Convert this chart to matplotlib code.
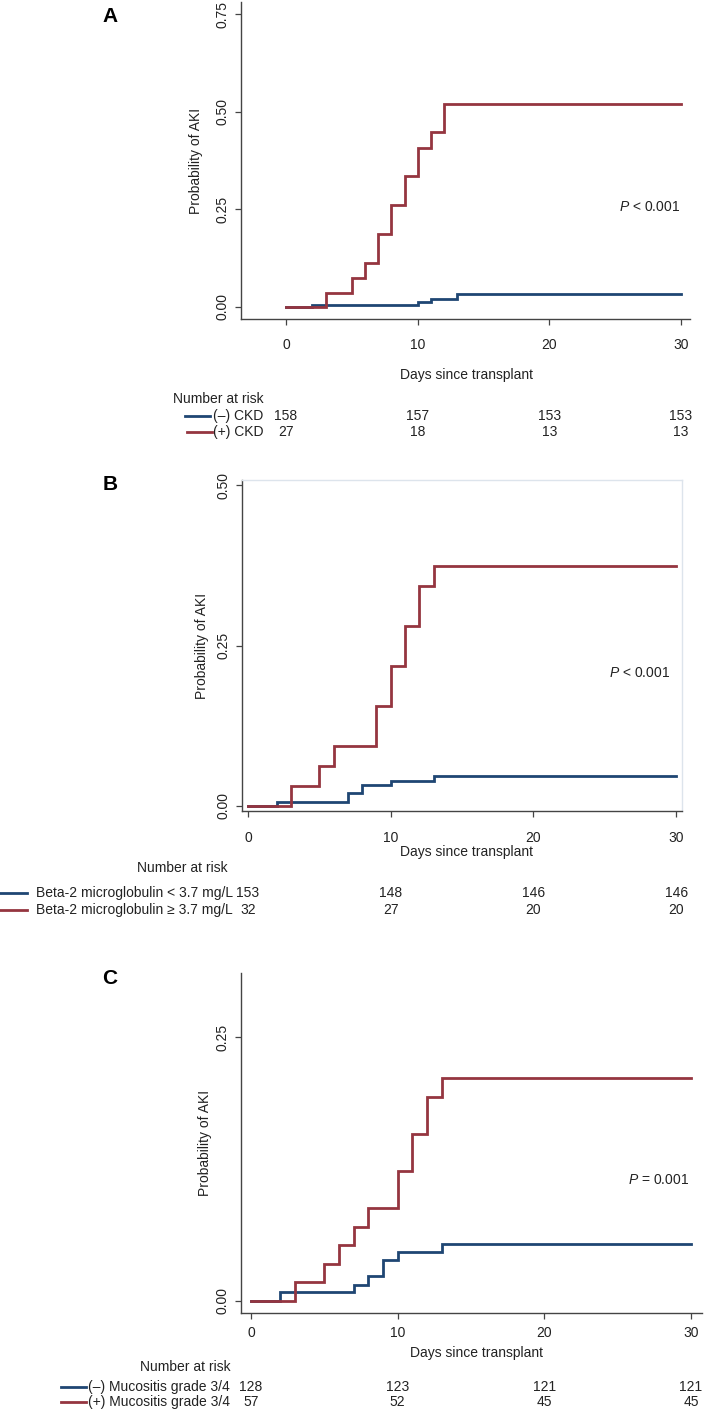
import matplotlib
matplotlib.use("Agg")
import matplotlib.pyplot as plt
from matplotlib.transforms import blended_transform_factory

plt.rcParams['font.family'] = ['Liberation Sans', 'DejaVu Sans']
plt.rcParams['mathtext.fontset'] = 'custom'
plt.rcParams['mathtext.it'] = 'Liberation Sans:italic'
plt.rcParams['mathtext.rm'] = 'Liberation Sans'

# ---------------- data ----------------
risk_days = [0, 10, 20, 30]
x_ticks = [0, 10, 20, 30]

# Panel A (CKD)
A_neg_t = [0, 2, 10, 11, 13, 30]
A_neg_p = [0, 0.005, 0.013, 0.020, 0.033, 0.033]
A_pos_t = [0, 3, 5, 6, 7, 8, 9, 10, 11, 12, 30]
A_pos_p = [0, 0.036, 0.074, 0.113, 0.186, 0.261, 0.336, 0.408, 0.449, 0.521, 0.521]
A_labels = ["(\u2013) CKD", "(+) CKD"]
A_risk_neg = [158, 157, 153, 153]
A_risk_pos = [27, 18, 13, 13]
A_yticks = [0, 0.25, 0.50, 0.75]
A_ptext = r"$P$ < 0.001"

# Panel B (Beta-2 microglobulin)
B_neg_t = [0, 2, 7, 8, 10, 13, 30]
B_neg_p = [0, 0.0068, 0.020, 0.033, 0.039, 0.046, 0.046]
B_pos_t = [0, 3, 5, 6, 9, 10, 11, 12, 13, 30]
B_pos_p = [0, 0.031, 0.063, 0.094, 0.156, 0.218, 0.281, 0.343, 0.374, 0.374]
B_labels = ["Beta-2 microglobulin < 3.7 mg/L", "Beta-2 microglobulin \u2265 3.7 mg/L"]
B_risk_neg = [153, 148, 146, 146]
B_risk_pos = [32, 27, 20, 20]
B_yticks = [0, 0.25, 0.50]
B_ptext = r"$P$ < 0.001"

# Panel C (Mucositis)
C_neg_t = [0, 2, 7, 8, 9, 10, 13, 30]
C_neg_p = [0, 0.0082, 0.0154, 0.0236, 0.039, 0.046, 0.054, 0.054]
C_pos_t = [0, 3, 5, 6, 7, 8, 10, 11, 12, 13, 30]
C_pos_p = [0, 0.0177, 0.0353, 0.053, 0.070, 0.088, 0.123, 0.158, 0.193, 0.211, 0.211]
C_labels = ["(\u2013) Mucositis grade 3/4", "(+) Mucositis grade 3/4"]
C_risk_neg = [128, 123, 121, 121]
C_risk_pos = [57, 52, 45, 45]
C_yticks = [0, 0.25]
C_ptext = r"$P$ = 0.001"

NAVY = "#1f4673"
MAROON = "#953540"
TXT = "#222222"
AXC = "#444444"

W, H = 709, 1411
fig = plt.figure(figsize=(W / 100, H / 100), dpi=100)
fig.patch.set_facecolor("white")


def fx(px):
    return px / W


def fy(py):
    return 1 - py / H


def add_ax(l, t, r, b):
    return fig.add_axes([fx(l), fy(b), (r - l) / W, (b - t) / H])


def ftext(x, y, s, **kw):
    kw.setdefault("color", TXT)
    kw.setdefault("fontsize", 10)
    kw.setdefault("va", "center")
    fig.text(fx(x), fy(y), s, **kw)


def panel(box, xlim, ylim, yticks, neg_t, neg_p, pos_t, pos_p, ptext, ppos,
          letter, letter_y, ylab_x, xpad, xlab_y, xlab_x,
          nar_x, nar_y, nar_ha, rows_y, line_x, lab_x,
          labels, risk_neg, risk_pos, framed=False):
    ax = add_ax(*box)
    ax.step(neg_t, neg_p, where="post", color=NAVY, lw=2.0, solid_joinstyle="miter")
    ax.step(pos_t, pos_p, where="post", color=MAROON, lw=2.0, solid_joinstyle="miter")
    ax.set_xlim(*xlim)
    ax.set_ylim(*ylim)
    ax.set_xticks(x_ticks)
    ax.set_yticks(yticks)
    ax.set_yticklabels([f"{v:.2f}" for v in yticks])
    for s in ["left", "bottom"]:
        ax.spines[s].set_color(AXC)
        ax.spines[s].set_linewidth(1.0)
    if framed:
        for s in ["top", "right"]:
            ax.spines[s].set_color("#dde4ec")
            ax.spines[s].set_linewidth(1.0)
    else:
        ax.spines["top"].set_visible(False)
        ax.spines["right"].set_visible(False)
    ax.tick_params(axis="both", direction="out", length=4.5, width=0.9,
                   color=AXC, labelcolor=TXT, labelsize=10)
    ax.tick_params(axis="x", pad=xpad)
    ax.tick_params(axis="y", pad=4)
    for lab in ax.get_yticklabels():
        lab.set_rotation(90)
        lab.set_va("center")
        lab.set_ha("right")
    ax.text(ppos[0], ppos[1], ptext, ha="right", va="center", fontsize=10,
            color=TXT, transform=ax.transData)
    # panel letter
    ftext(110, letter_y, letter, fontsize=15, fontweight="bold", color="black",
          ha="center")
    # y label
    t, b = box[1], box[3]
    ftext(ylab_x, (t + b) / 2, "Probability of AKI", rotation=90, ha="center")
    # x label
    ftext(xlab_x, xlab_y, "Days since transplant", ha="center")
    # number at risk
    ftext(nar_x, nar_y, "Number at risk", ha=nar_ha)
    tr = blended_transform_factory(ax.transData, fig.transFigure)
    for (ry, lx, color, label, vals) in [
        (rows_y[0], line_x[0], NAVY, labels[0], risk_neg),
        (rows_y[1], line_x[1], MAROON, labels[1], risk_pos),
    ]:
        fig.add_artist(plt.Line2D([fx(lx[0]), fx(lx[1])], [fy(ry), fy(ry)],
                                  color=color, lw=2.0,
                                  transform=fig.transFigure))
        ftext(lab_x, ry, label, ha="left")
        for d, v in zip(risk_days, vals):
            fig.text(d, fy(ry), str(v), ha="center", va="center",
                     fontsize=10, color=TXT, transform=tr)
    return ax


# Panel A
panel(box=(241, 2, 690, 319), xlim=(-3.42, 30.68), ylim=(-0.031, 0.782),
      yticks=A_yticks, neg_t=A_neg_t, neg_p=A_neg_p, pos_t=A_pos_t, pos_p=A_pos_p,
      ptext=A_ptext, ppos=(29.9, 0.256), letter="A", letter_y=16, ylab_x=196,
      xpad=9, xlab_y=375, xlab_x=466,
      nar_x=173, nar_y=399, nar_ha="left", rows_y=(416, 432),
      line_x=((185, 210), (187, 212)), lab_x=213,
      labels=A_labels, risk_neg=A_risk_neg, risk_pos=A_risk_pos)

# Panel B
panel(box=(242, 480, 682, 811), xlim=(-0.42, 30.41), ylim=(-0.0078, 0.508),
      yticks=B_yticks, neg_t=B_neg_t, neg_p=B_neg_p, pos_t=B_pos_t, pos_p=B_pos_p,
      ptext=B_ptext, ppos=(29.6, 0.207), letter="B", letter_y=484, ylab_x=202,
      xpad=10, xlab_y=852, xlab_x=466,
      nar_x=182, nar_y=868, nar_ha="center", rows_y=(893, 910),
      line_x=((0, 27), (0, 27)), lab_x=36,
      labels=B_labels, risk_neg=B_risk_neg, risk_pos=B_risk_pos, framed=True)

# Panel C
panel(box=(241, 973, 702, 1313), xlim=(-0.68, 30.75), ylim=(-0.0114, 0.3106),
      yticks=C_yticks, neg_t=C_neg_t, neg_p=C_neg_p, pos_t=C_pos_t, pos_p=C_pos_p,
      ptext=C_ptext, ppos=(29.9, 0.115), letter="C", letter_y=979, ylab_x=205,
      xpad=5, xlab_y=1353, xlab_x=477,
      nar_x=185, nar_y=1367, nar_ha="center", rows_y=(1387, 1402),
      line_x=((61, 86), (61, 86)), lab_x=88,
      labels=C_labels, risk_neg=C_risk_neg, risk_pos=C_risk_pos)

fig.savefig("out.png", dpi=100, facecolor="white")
